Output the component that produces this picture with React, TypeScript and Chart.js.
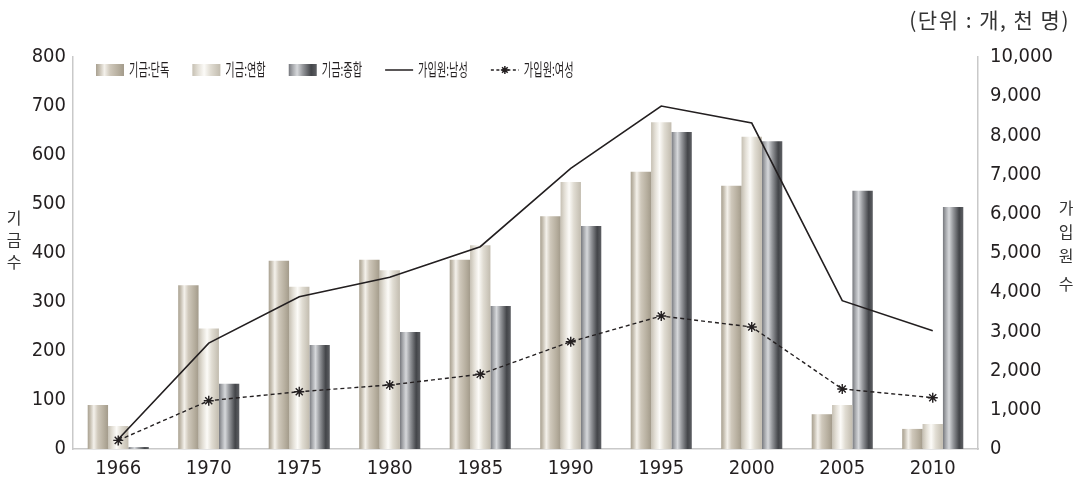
import React, { useEffect, useRef } from 'react';
import { Chart, registerables } from 'chart.js';

Chart.register(...registerables);

const years = ['1966', '1970', '1975', '1980', '1985', '1990', '1995', '2000', '2005', '2010'];
const fundSingle = [90, 334, 384, 386, 386, 475, 566, 537, 71, 41];
const fundUnion = [47, 246, 331, 365, 416, 545, 667, 637, 90, 51];
const fundTotal = [4, 133, 212, 239, 292, 455, 647, 628, 527, 494];
const membersMale = [250, 2700, 3885, 4380, 5160, 7160, 8750, 8316, 3783, 3018];
const membersFemale = [220, 1232, 1462, 1633, 1905, 2737, 3393, 3112, 1531, 1309];

const seriesLabels = ['기금:단독', '기금:연합', '기금:종합', '가입원:남성', '가입원:여성'];
const leftTitle = ['기', '금', '수'];
const rightTitle = ['가', '입', '원', '수'];
const unitText = '(단위 : 개, 천 명)';

const leftMax = 800;
const leftStep = 100;
const rightMax = 10000;
const rightStep = 1000;

type Stops = [number, string][];
const gradients: Record<string, Stops> = {
  single: [[0, '#a9a191'], [0.12, '#c4bdaf'], [0.3, '#f4f1eb'], [0.5, '#cfc8bb'], [0.8, '#b6ae9e'], [1, '#a39b8b']],
  union: [[0, '#c6c0b3'], [0.2, '#e3dfd6'], [0.42, '#fcfbf8'], [0.65, '#e0dcd2'], [1, '#c2bcaf']],
  total: [[0, '#76787d'], [0.14, '#a7a9ad'], [0.3, '#d6d8db'], [0.5, '#96989c'], [0.8, '#434549'], [1, '#5e6064']],
};
const gradKeys = ['single', 'union', 'total'];

const ink = '#231f20';
const axisGray = '#c9c9c9';
const tickFont = { family: "'Liberation Sans Narrow','DejaVu Sans Condensed',Roboto,sans-serif", size: 20 };
const korFont = "'Noto Sans CJK KR','Noto Sans',sans-serif";

function makeGrad(ctx: CanvasRenderingContext2D, x0: number, x1: number, stops: Stops) {
  const g = ctx.createLinearGradient(x0, 0, x1, 0);
  stops.forEach(([o, c]) => g.addColorStop(o, c));
  return g;
}

const barGradientPlugin = {
  id: 'barGradient',
  beforeDatasetsDraw(chart: any) {
    const ctx = chart.ctx as CanvasRenderingContext2D;
    chart.data.datasets.forEach((ds: any, i: number) => {
      if (ds.type !== 'bar') return;
      const meta = chart.getDatasetMeta(i);
      const stops = gradients[ds.gradKey];
      meta.data.forEach((el: any) => {
        const g = makeGrad(ctx, el.x - el.width / 2, el.x + el.width / 2, stops);
        el.options = Object.assign({}, el.options, { backgroundColor: g });
      });
    });
  },
};

function drawStar(ctx: CanvasRenderingContext2D, cx: number, cy: number, r: number) {
  ctx.beginPath();
  for (let k = 0; k < 4; k++) {
    const a = (k * Math.PI) / 4;
    ctx.moveTo(cx + Math.cos(a) * r, cy + Math.sin(a) * r);
    ctx.lineTo(cx - Math.cos(a) * r, cy - Math.sin(a) * r);
  }
  ctx.stroke();
}

const decorPlugin = {
  id: 'decor',
  afterDraw(chart: any) {
    const ctx = chart.ctx as CanvasRenderingContext2D;
    const area = chart.chartArea;
    ctx.save();
    // legend
    let x = area.left + 23;
    const cy = area.top + 13;
    seriesLabels.forEach((label, i) => {
      if (i < 3) {
        ctx.fillStyle = makeGrad(ctx, x, x + 28, gradients[gradKeys[i]]);
        ctx.fillRect(x, cy - 6, 28, 12);
      } else {
        ctx.strokeStyle = ink;
        ctx.lineWidth = 1.5;
        if (i === 4) ctx.setLineDash([3, 2.5]);
        ctx.beginPath();
        ctx.moveTo(x, cy);
        ctx.lineTo(x + 28, cy);
        ctx.stroke();
        ctx.setLineDash([]);
        if (i === 4) drawStar(ctx, x + 14, cy, 4);
      }
      x += 28 + 5;
      ctx.save();
      ctx.font = `17px ${korFont}`;
      ctx.fillStyle = ink;
      ctx.textBaseline = 'middle';
      ctx.textAlign = 'left';
      ctx.translate(x, cy);
      ctx.scale(0.6, 1);
      ctx.fillText(label, 0, 0);
      const w = ctx.measureText(label).width * 0.6;
      ctx.restore();
      x += w + 23;
    });
    // axis titles
    ctx.font = `16px ${korFont}`;
    ctx.fillStyle = '#333';
    ctx.textAlign = 'center';
    ctx.textBaseline = 'middle';
    leftTitle.forEach((c, k) => ctx.fillText(c, 14, 218 + k * 22));
    const rightYs = [208, 232, 256, 284];
    rightTitle.forEach((c, k) => ctx.fillText(c, 1066, rightYs[k]));
    // unit
    ctx.font = `21px ${korFont}`;
    (ctx as any).letterSpacing = '1.5px';
    ctx.textAlign = 'right';
    ctx.fillText(unitText, 1070, 20);
    ctx.restore();
  },
};

export default function App() {
  const ref = useRef<HTMLCanvasElement>(null);
  useEffect(() => {
    document.body.style.margin = '0';
    const canvas = ref.current!;
    const barCommon = {
      type: 'bar' as const,
      yAxisID: 'y',
      barPercentage: 1,
      categoryPercentage: 0.675,
      borderWidth: 0,
      order: 1,
    };
    const chart = new Chart(canvas, {
      type: 'bar',
      data: {
        labels: years,
        datasets: [
          { ...barCommon, label: seriesLabels[0], data: fundSingle, backgroundColor: '#bdb5a5', gradKey: 'single' } as any,
          { ...barCommon, label: seriesLabels[1], data: fundUnion, backgroundColor: '#dcd7cd', gradKey: 'union' } as any,
          { ...barCommon, label: seriesLabels[2], data: fundTotal, backgroundColor: '#7a7c80', gradKey: 'total' } as any,
          {
            type: 'line',
            label: seriesLabels[3],
            data: membersMale,
            yAxisID: 'y1',
            borderColor: ink,
            borderWidth: 1.6,
            pointRadius: 0,
            tension: 0,
            order: 0,
          } as any,
          {
            type: 'line',
            label: seriesLabels[4],
            data: membersFemale,
            yAxisID: 'y1',
            borderColor: ink,
            borderWidth: 1.4,
            borderDash: [4, 3],
            pointStyle: 'star',
            pointRadius: 5,
            pointBorderColor: ink,
            pointBackgroundColor: ink,
            pointBorderWidth: 1.4,
            tension: 0,
            order: 0,
          } as any,
        ],
      },
      options: {
        animation: false,
        responsive: true,
        maintainAspectRatio: false,
        layout: { padding: { top: 57, left: 0, right: 0, bottom: 0 } },
        plugins: {
          legend: { display: false },
          tooltip: { enabled: false },
          title: { display: false },
        },
        scales: {
          x: {
            type: 'category',
            grid: { display: false, drawTicks: false },
            border: { display: true, color: axisGray, width: 1.5 },
            ticks: { color: ink, font: tickFont, padding: 8, maxRotation: 0 },
            afterFit: (s: any) => { s.height = 32; },
          },
          y: {
            position: 'left',
            min: 0,
            max: leftMax,
            grid: { display: false, drawTicks: false },
            border: { display: true, color: axisGray, width: 1.5 },
            ticks: { stepSize: leftStep, color: ink, font: tickFont, padding: 7 },
            afterFit: (s: any) => { s.width = 73; },
          },
          y1: {
            position: 'right',
            min: 0,
            max: rightMax,
            grid: { display: false, drawTicks: false },
            border: { display: true, color: axisGray, width: 1.5 },
            ticks: {
              stepSize: rightStep,
              color: ink,
              font: tickFont,
              padding: 12,
              callback: (v: any) => Number(v).toLocaleString('en-US'),
            },
            afterFit: (s: any) => { s.width = 105; },
          },
        },
      } as any,
      plugins: [barGradientPlugin, decorPlugin],
    });
    return () => chart.destroy();
  }, []);
  return (
    <div style={{ width: 1083, height: 481, position: 'relative' }}>
      <canvas ref={ref} />
    </div>
  );
}
